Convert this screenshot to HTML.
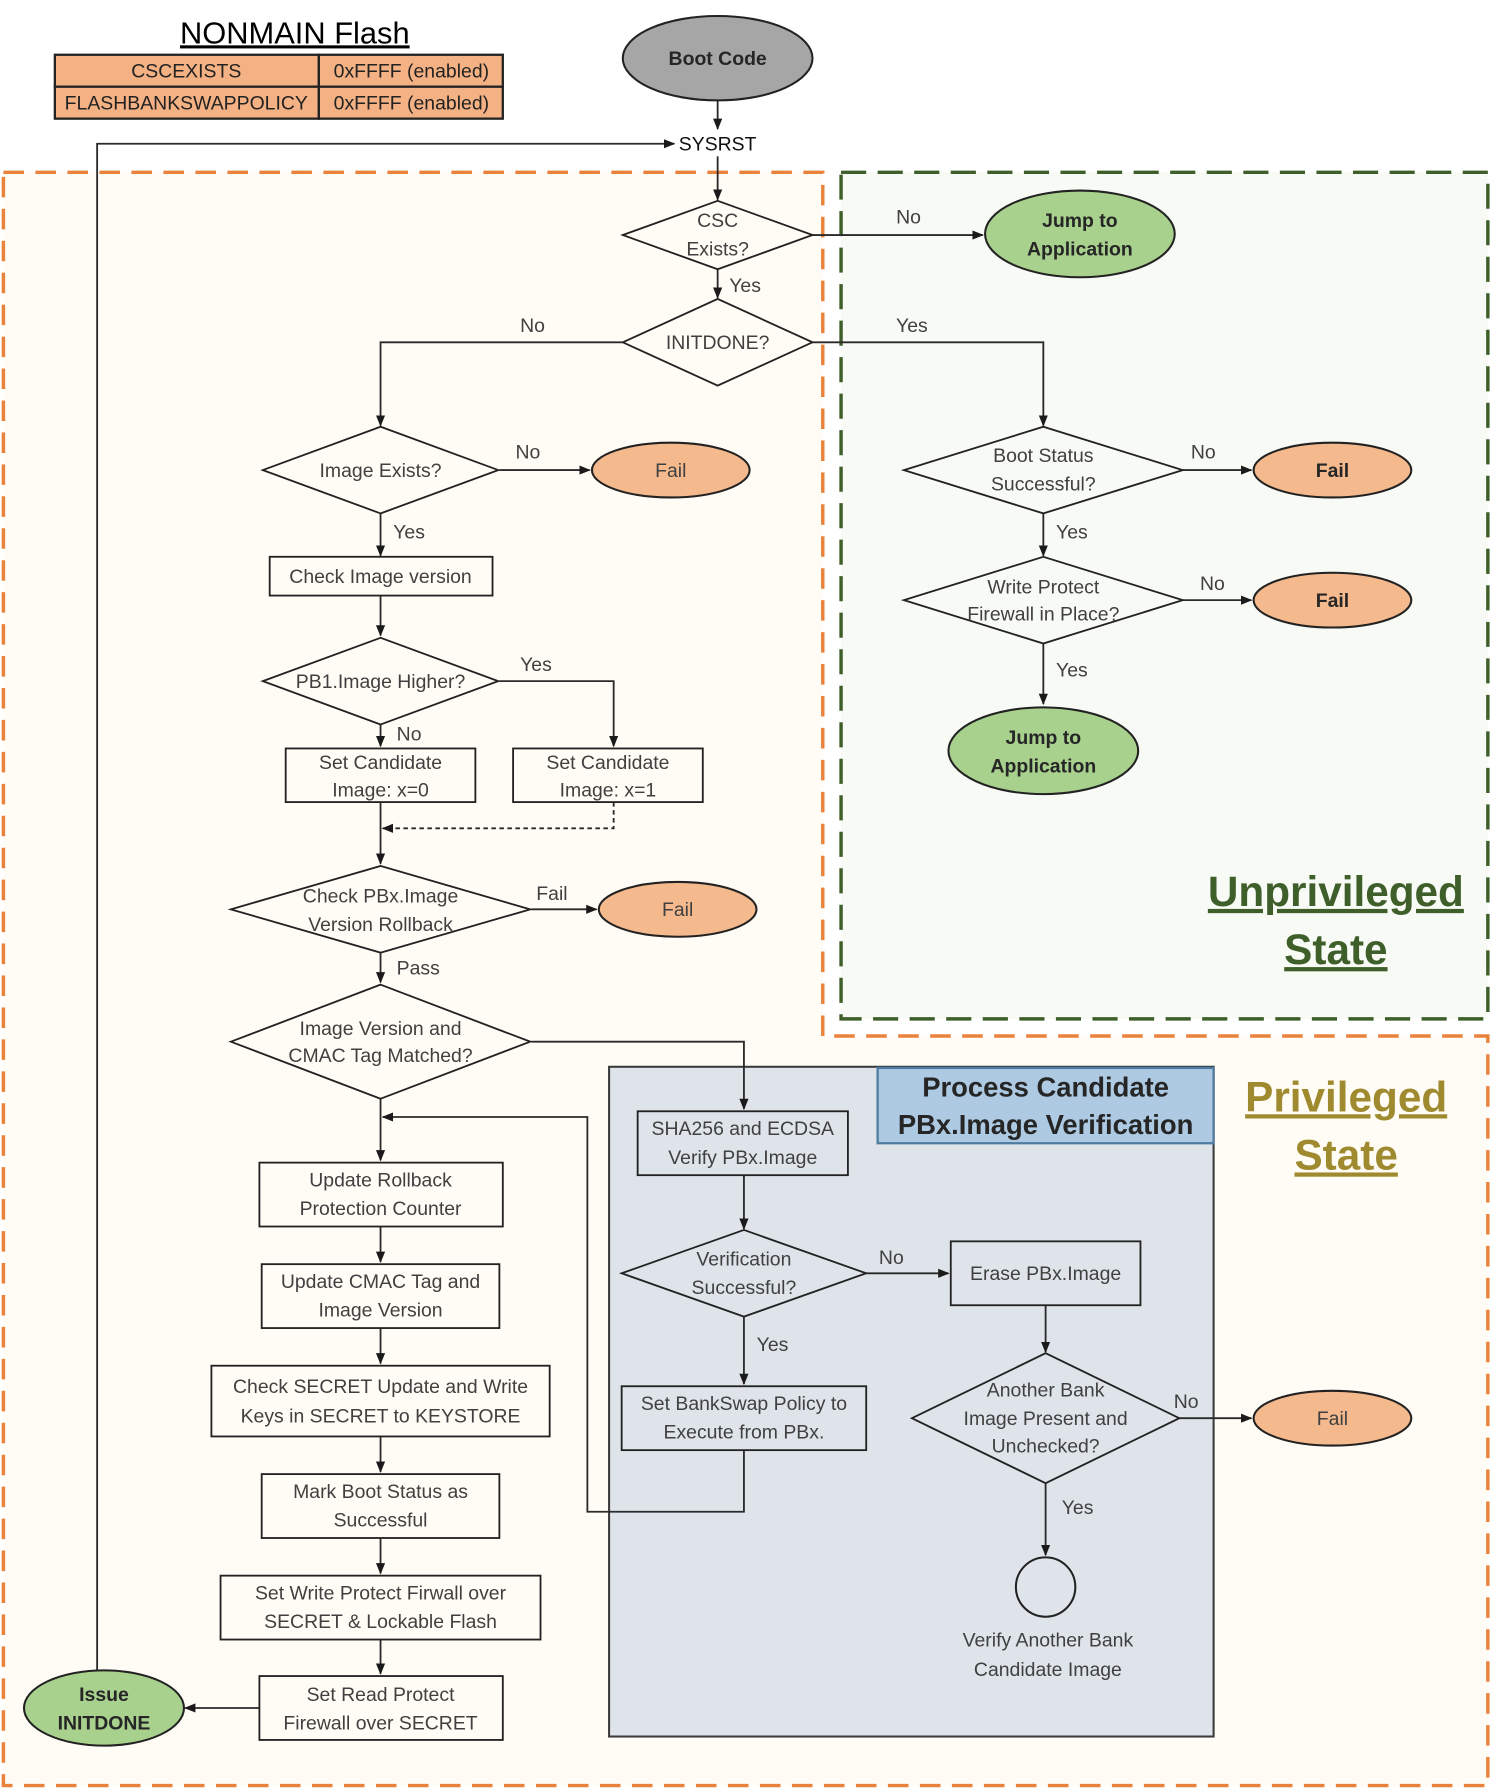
<!DOCTYPE html>
<html><head><meta charset="utf-8"><style>
html,body{margin:0;padding:0;background:#fff}
svg{display:block}
text{font-family:"Liberation Sans Narrow","Liberation Sans",sans-serif;fill:#404040;font-size:17px}
.c{text-anchor:middle}
.b{font-weight:bold;fill:#262626}
</style></head><body>
<svg width="1497" height="1789" viewBox="0 0 1310 1568" preserveAspectRatio="none" xmlns="http://www.w3.org/2000/svg">
<defs>
<marker id="a" markerWidth="10" markerHeight="10" refX="9" refY="5" orient="auto" markerUnits="userSpaceOnUse"><path d="M0,1 L10,5 L0,9 z" fill="#1a1a1a"/></marker>
</defs>
<rect width="1310" height="1568" fill="#fff"/>
<path d="M3,151 H720 V908 H1302 V1565 H3 Z" fill="#FFFCF5" stroke="#E9823A" stroke-width="3" stroke-dasharray="18,10"/>
<rect x="736" y="151" width="566" height="742" fill="#F8FAF5" stroke="#3F5F2A" stroke-width="3" stroke-dasharray="22,10"/>
<rect x="533" y="935" width="529" height="587" fill="#DEE4EA" stroke="#3a3a3a" stroke-width="1.8"/>
<rect x="768" y="936" width="294" height="66" fill="#ADCAE2" stroke="#4F7BA0" stroke-width="2"/>
<text class="c b" x="915" y="961" style="font-size:24px">Process Candidate</text>
<text class="c b" x="915" y="994" style="font-size:24px">PBx.Image Verification</text>
<text class="c" x="1169" y="794" style="font-size:37px;font-weight:bold;fill:#3F5F2A;text-decoration:underline">Unprivileged</text>
<text class="c" x="1169" y="845" style="font-size:37px;font-weight:bold;fill:#3F5F2A;text-decoration:underline">State</text>
<text class="c" x="1178" y="974" style="font-size:37px;font-weight:bold;fill:#9F8A2F;text-decoration:underline">Privileged</text>
<text class="c" x="1178" y="1025" style="font-size:37px;font-weight:bold;fill:#9F8A2F;text-decoration:underline">State</text>
<text class="c" x="258" y="38" style="font-size:27px;fill:#000;text-decoration:underline;font-family:'Liberation Sans',sans-serif">NONMAIN Flash</text>
<g stroke="#222" stroke-width="2" fill="#F4B183">
<rect x="48" y="48" width="231" height="28"/><rect x="279" y="48" width="161" height="28"/>
<rect x="48" y="76" width="231" height="28"/><rect x="279" y="76" width="161" height="28"/>
</g>
<text class="c" x="163" y="68" style="fill:#222">CSCEXISTS</text>
<text class="c" x="360" y="68" style="fill:#222">0xFFFF (enabled)</text>
<text class="c" x="163" y="96" style="fill:#222">FLASHBANKSWAPPOLICY</text>
<text class="c" x="360" y="96" style="fill:#222">0xFFFF (enabled)</text>
<g stroke="#2a2a2a" stroke-width="1.6" fill="none">
<path d="M628,88 V113" marker-end="url(#a)"/>
<path d="M628,137 V175" marker-end="url(#a)"/>
<path d="M85,1464 V126 H590" marker-end="url(#a)"/>
<path d="M711,206 H860" marker-end="url(#a)"/>
<path d="M628,236 V261" marker-end="url(#a)"/>
<path d="M545,300 H333 V373" marker-end="url(#a)"/>
<path d="M711,300 H913 V373" marker-end="url(#a)"/>
<path d="M437,412 H516" marker-end="url(#a)"/>
<path d="M333,450 V487" marker-end="url(#a)"/>
<path d="M333,522 V557" marker-end="url(#a)"/>
<path d="M437,597 H537 V654" marker-end="url(#a)"/>
<path d="M333,635 V654" marker-end="url(#a)"/>
<path d="M537,703 V726 H335" stroke-dasharray="4,3" marker-end="url(#a)"/>
<path d="M333,703 V757" marker-end="url(#a)"/>
<path d="M465,797 H522" marker-end="url(#a)"/>
<path d="M333,835 V861" marker-end="url(#a)"/>
<path d="M465,913 H651 V972" marker-end="url(#a)"/>
<path d="M333,963 V1017" marker-end="url(#a)"/>
<path d="M333,1075 V1106" marker-end="url(#a)"/>
<path d="M333,1164 V1195" marker-end="url(#a)"/>
<path d="M333,1259 V1290" marker-end="url(#a)"/>
<path d="M333,1348 V1379" marker-end="url(#a)"/>
<path d="M333,1437 V1467" marker-end="url(#a)"/>
<path d="M227,1497 H162" marker-end="url(#a)"/>
<path d="M651,1030 V1077" marker-end="url(#a)"/>
<path d="M758,1116 H830" marker-end="url(#a)"/>
<path d="M915,1144 V1185" marker-end="url(#a)"/>
<path d="M1032,1243 H1095" marker-end="url(#a)"/>
<path d="M915,1300 V1363" marker-end="url(#a)"/>
<path d="M651,1154 V1213" marker-end="url(#a)"/>
<path d="M651,1271 V1325 H514 V979 H335" marker-end="url(#a)"/>
<path d="M1035,412 H1095" marker-end="url(#a)"/>
<path d="M913,450 V487" marker-end="url(#a)"/>
<path d="M1035,526 H1095" marker-end="url(#a)"/>
<path d="M913,564 V617" marker-end="url(#a)"/>
</g>
<g stroke="#222" stroke-width="1.8">
<ellipse cx="628" cy="51" rx="83" ry="37" fill="#A6A6A6"/>
<ellipse cx="945" cy="205" rx="83" ry="38" fill="#A9D18E"/>
<ellipse cx="913" cy="658" rx="83" ry="38" fill="#A9D18E"/>
<ellipse cx="91" cy="1497" rx="70" ry="33" fill="#A9D18E"/>
<ellipse cx="587" cy="412" rx="69" ry="24" fill="#F4B98C"/>
<ellipse cx="593" cy="797" rx="69" ry="24" fill="#F4B98C"/>
<ellipse cx="1166" cy="412" rx="69" ry="24" fill="#F4B98C"/>
<ellipse cx="1166" cy="526" rx="69" ry="24" fill="#F4B98C"/>
<ellipse cx="1166" cy="1243" rx="69" ry="24" fill="#F4B98C"/>
<circle cx="915" cy="1391" r="26" fill="none"/>
</g>
<g stroke="#222" stroke-width="1.6" fill="none">
<path d="M545,206 L628,176 L711,206 L628,236 Z"/>
<path d="M545,300 L628,262 L711,300 L628,338 Z"/>
<path d="M230,412 L333,374 L436,412 L333,450 Z"/>
<path d="M230,597 L333,559 L436,597 L333,635 Z"/>
<path d="M202,797 L333,759 L464,797 L333,835 Z"/>
<path d="M202,913 L333,863 L464,913 L333,963 Z"/>
<path d="M544,1116 L651,1078 L758,1116 L651,1154 Z"/>
<path d="M798,1243 L915,1186 L1032,1243 L915,1300 Z"/>
<path d="M791,412 L913,374 L1035,412 L913,450 Z"/>
<path d="M791,526 L913,488 L1035,526 L913,564 Z"/>
</g>
<g stroke="#222" stroke-width="1.6" fill="none">
<rect x="236" y="488" width="195" height="34"/>
<rect x="250" y="656" width="166" height="47"/>
<rect x="449" y="656" width="166" height="47"/>
<rect x="227" y="1019" width="213" height="56"/>
<rect x="229" y="1108" width="208" height="56"/>
<rect x="185" y="1197" width="296" height="62"/>
<rect x="229" y="1292" width="208" height="56"/>
<rect x="193" y="1381" width="280" height="56"/>
<rect x="227" y="1469" width="213" height="56"/>
<rect x="558" y="974" width="184" height="56"/>
<rect x="832" y="1088" width="166" height="56"/>
<rect x="544" y="1215" width="214" height="56"/>
</g>
<text class="c b" x="628" y="57">Boot Code</text>
<text class="c" x="628" y="132" style="fill:#111">SYSRST</text>
<text class="c" x="628" y="199">CSC</text><text class="c" x="628" y="224">Exists?</text>
<text class="c" x="628" y="306">INITDONE?</text>
<text class="c b" x="945" y="199">Jump to</text><text class="c b" x="945" y="224">Application</text>
<text class="c b" x="913" y="652">Jump to</text><text class="c b" x="913" y="677">Application</text>
<text class="c b" x="91" y="1491">Issue</text><text class="c b" x="91" y="1516">INITDONE</text>
<text class="c" x="587" y="418">Fail</text>
<text class="c" x="593" y="803">Fail</text>
<text class="c b" x="1166" y="418">Fail</text>
<text class="c b" x="1166" y="532">Fail</text>
<text class="c" x="1166" y="1249">Fail</text>
<text class="c" x="795" y="196">No</text>
<text class="c" x="652" y="256">Yes</text>
<text class="c" x="466" y="291">No</text>
<text class="c" x="798" y="291">Yes</text>
<text class="c" x="333" y="418">Image Exists?</text>
<text class="c" x="462" y="402">No</text>
<text class="c" x="358" y="472">Yes</text>
<text class="c" x="333" y="511">Check Image version</text>
<text class="c" x="333" y="603">PB1.Image Higher?</text>
<text class="c" x="469" y="588">Yes</text>
<text class="c" x="358" y="649">No</text>
<text class="c" x="333" y="674">Set Candidate</text><text class="c" x="333" y="698">Image: x=0</text>
<text class="c" x="532" y="674">Set Candidate</text><text class="c" x="532" y="698">Image: x=1</text>
<text class="c" x="333" y="791">Check PBx.Image</text><text class="c" x="333" y="816">Version Rollback</text>
<text class="c" x="483" y="789">Fail</text>
<text class="c" x="366" y="854">Pass</text>
<text class="c" x="333" y="907">Image Version and</text><text class="c" x="333" y="931">CMAC Tag Matched?</text>
<text class="c" x="333" y="1040">Update Rollback</text><text class="c" x="333" y="1065">Protection Counter</text>
<text class="c" x="333" y="1129">Update CMAC Tag and</text><text class="c" x="333" y="1154">Image Version</text>
<text class="c" x="333" y="1221">Check SECRET Update and Write</text><text class="c" x="333" y="1247">Keys in SECRET to KEYSTORE</text>
<text class="c" x="333" y="1313">Mark Boot Status as</text><text class="c" x="333" y="1338">Successful</text>
<text class="c" x="333" y="1402">Set Write Protect Firwall over</text><text class="c" x="333" y="1427">SECRET &amp; Lockable Flash</text>
<text class="c" x="333" y="1491">Set Read Protect</text><text class="c" x="333" y="1516">Firewall over SECRET</text>
<text class="c" x="650" y="995">SHA256 and ECDSA</text><text class="c" x="650" y="1020">Verify PBx.Image</text>
<text class="c" x="651" y="1109">Verification</text><text class="c" x="651" y="1134">Successful?</text>
<text class="c" x="780" y="1108">No</text>
<text class="c" x="915" y="1122">Erase PBx.Image</text>
<text class="c" x="676" y="1184">Yes</text>
<text class="c" x="651" y="1236">Set BankSwap Policy to</text><text class="c" x="651" y="1261">Execute from PBx.</text>
<text class="c" x="915" y="1224">Another Bank</text><text class="c" x="915" y="1249">Image Present and</text><text class="c" x="915" y="1273">Unchecked?</text>
<text class="c" x="1038" y="1234">No</text>
<text class="c" x="943" y="1327">Yes</text>
<text class="c" x="917" y="1443">Verify Another Bank</text><text class="c" x="917" y="1469">Candidate Image</text>
<text class="c" x="913" y="405">Boot Status</text><text class="c" x="913" y="430">Successful?</text>
<text class="c" x="1053" y="402">No</text>
<text class="c" x="938" y="472">Yes</text>
<text class="c" x="913" y="520">Write Protect</text><text class="c" x="913" y="544">Firewall in Place?</text>
<text class="c" x="1061" y="517">No</text>
<text class="c" x="938" y="593">Yes</text>
</svg>
</body></html>
